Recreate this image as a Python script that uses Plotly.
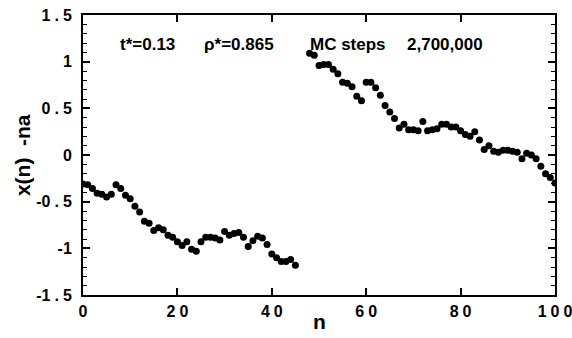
import plotly.graph_objects as go

# lower segment (n = 0..45)
n_low = list(range(0, 46))
x_low = [-0.31, -0.32, -0.36, -0.41, -0.42, -0.45, -0.42, -0.32, -0.36, -0.43,
         -0.47, -0.55, -0.61, -0.71, -0.73, -0.81, -0.78, -0.80, -0.86, -0.88,
         -0.93, -0.97, -0.93, -1.01, -1.03, -0.93, -0.88, -0.88, -0.89, -0.91,
         -0.82, -0.86, -0.84, -0.83, -0.88, -0.98, -0.92, -0.87, -0.89, -0.96,
         -1.06, -1.10, -1.14, -1.14, -1.12, -1.18]

# upper segment (n = 48..100)
n_high = list(range(48, 101))
x_high = [1.09, 1.07, 0.96, 0.97, 0.97, 0.92, 0.87, 0.78, 0.77, 0.73,
          0.63, 0.58, 0.78, 0.78, 0.72, 0.64, 0.53, 0.46, 0.39, 0.29,
          0.33, 0.27, 0.27, 0.26, 0.36, 0.26, 0.27, 0.28, 0.33, 0.33,
          0.30, 0.30, 0.26, 0.22, 0.20, 0.25, 0.16, 0.06, 0.10, 0.04,
          0.03, 0.05, 0.05, 0.04, 0.03, -0.04, 0.02, 0.00, -0.04, -0.12,
          -0.20, -0.24, -0.30]

SP = "\u2005"
x_tickvals = [0, 20, 40, 60, 80, 100]
x_ticktext = ["0", "2" + SP + "0", "4" + SP + "0", "6" + SP + "0", "8" + SP + "0", "1" + SP + "0" + SP + "0"]
y_tickvals = [1.5, 1, 0.5, 0, -0.5, -1, -1.5]
y_ticktext = ["1" + SP + "." + SP + "5", "1", "0" + SP + "." + SP + "5", "0",
              "-0" + SP + "." + SP + "5", "-1", "-1" + SP + "." + SP + "5"]

info_texts = ["t*=0.13", "\u03c1*=0.865", "MC steps", "2,700,000"]
info_x = [0.074, 0.252, 0.477, 0.682]

FONT = "Liberation Sans, Arial, sans-serif"

fig = go.Figure()
fig.add_trace(go.Scatter(x=n_low, y=x_low, mode="markers",
                         marker=dict(color="black", size=7), showlegend=False))
fig.add_trace(go.Scatter(x=n_high, y=x_high, mode="markers",
                         marker=dict(color="black", size=7), showlegend=False))

for t, xp in zip(info_texts, info_x):
    fig.add_annotation(text="<b>%s</b>" % t, x=xp, y=0.895, xref="paper", yref="paper",
                       xanchor="left", yanchor="middle", showarrow=False,
                       font=dict(family=FONT, size=17, color="black"))

# axis titles
fig.add_annotation(text="<b>x(n)  -na</b>", x=-0.129, y=0.5, xref="paper", yref="paper",
                   xanchor="center", yanchor="middle", textangle=-90, showarrow=False,
                   font=dict(family=FONT, size=21, color="black"))
fig.add_annotation(text="<b>n</b>", x=0.5, y=-0.096, xref="paper", yref="paper",
                   xanchor="center", yanchor="middle", showarrow=False,
                   font=dict(family=FONT, size=21, color="black"))

fig.update_layout(
    width=572, height=338,
    margin=dict(l=83, r=17, t=15, b=43),
    paper_bgcolor="white", plot_bgcolor="white",
    font=dict(family=FONT, color="black"),
)
fig.update_xaxes(
    range=[0, 100], tickvals=x_tickvals, ticktext=x_ticktext,
    showline=True, linewidth=2, linecolor="black", mirror="ticks",
    ticks="inside", ticklen=7, tickwidth=1.5, tickcolor="black",
    showgrid=False, zeroline=False, automargin=False,
    ticklabeloverflow="allow",
    tickfont=dict(family=FONT, size=16, color="black", weight="bold"),
    ticklabelstandoff=1,
)
fig.update_yaxes(
    range=[-1.5, 1.5], tickvals=y_tickvals, ticktext=y_ticktext,
    showline=True, linewidth=2, linecolor="black", mirror="ticks",
    ticks="inside", ticklen=7, tickwidth=1.5, tickcolor="black",
    minor=dict(dtick=0.1, ticks="inside", ticklen=4, tickwidth=1, tickcolor="black"),
    showgrid=False, zeroline=False, automargin=False,
    ticklabeloverflow="allow",
    tickfont=dict(family=FONT, size=16, color="black", weight="bold"),
    ticklabelstandoff=6,
)

fig.write_html("out.html", config={"displayModeBar": False},
               post_script="document.body.style.margin='0';document.body.style.padding='0';")
